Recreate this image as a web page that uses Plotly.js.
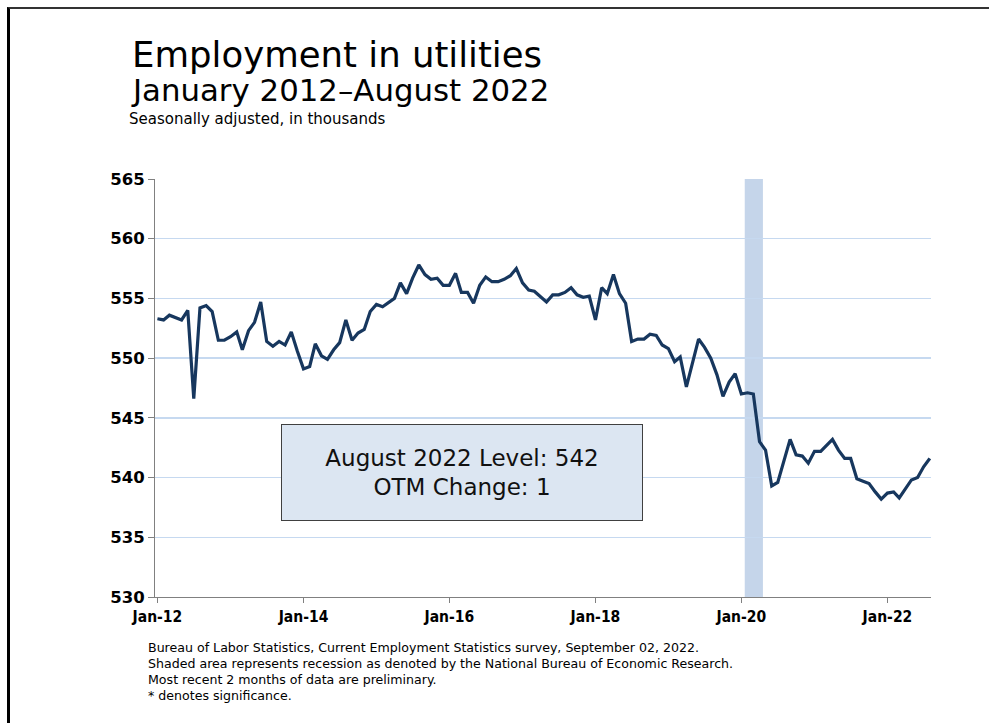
<!DOCTYPE html>
<html>
<head>
<meta charset="utf-8">
<script src="https://cdn.plot.ly/plotly-3.0.1.min.js"></script>
<style>
  html, body { margin: 0; padding: 0; background: #fff; }
  #wrap { position: relative; width: 989px; height: 723px; overflow: hidden; }
  #frame { position: absolute; left: 7px; top: 7px; width: 990px; height: 730px;
           border-top: 2px solid #333; border-left: 3px solid #000; pointer-events: none; }
  #chart { position: absolute; left: 0; top: 0; width: 989px; height: 723px; }
</style>
</head>
<body>
<div id="wrap">
  <div id="chart"></div>
  <div id="frame"></div>
</div>
<script>
// Monthly employment in utilities, thousands, Jan 2012 – Aug 2022
const startYear = 2012;
const values2012 = [553.3, 553.2, 553.6, 553.4, 553.2, 554.0, 546.6, 554.2, 554.4, 553.9, 551.5, 551.5];
const values2013 = [551.8, 552.2, 550.7, 552.3, 553.0, 554.7, 551.4, 551.0, 551.4, 551.1, 552.2, 550.6];
const values2014 = [549.1, 549.3, 551.2, 550.2, 549.9, 550.7, 551.3, 553.2, 551.5, 552.1, 552.4, 553.9];
const values2015 = [554.5, 554.3, 554.6, 555.0, 556.3, 555.4, 556.7, 557.8, 557.0, 556.6, 556.7, 556.1];
const values2016 = [556.1, 557.1, 555.5, 555.5, 554.6, 556.1, 556.8, 556.4, 556.4, 556.6, 556.9, 557.5];
const values2017 = [556.3, 555.7, 555.6, 555.1, 554.7, 555.3, 555.3, 555.5, 555.9, 555.3, 555.1, 555.2];
const values2018 = [553.2, 555.9, 555.4, 557.0, 555.4, 554.6, 551.4, 551.6, 551.6, 552.0, 551.9, 551.1];
const values2019 = [550.8, 549.7, 550.1, 547.6, 549.6, 551.6, 550.9, 550.0, 548.6, 546.8, 548.0, 548.7];
const values2020 = [547.0, 547.1, 547.0, 543.0, 542.3, 539.3, 539.6, 541.4, 543.2, 541.9, 541.8, 541.2];
const values2021 = [542.2, 542.2, 542.7, 543.2, 542.3, 541.6, 541.6, 539.9, 539.7, 539.5, 538.8, 538.2];
const values2022 = [538.7, 538.8, 538.3, 539.1, 539.8, 540.0, 540.9, 541.6];

const yearly = [values2012, values2013, values2014, values2015, values2016, values2017,
                values2018, values2019, values2020, values2021, values2022];

const tickDates = ['2012-01-01', '2014-01-01', '2016-01-01', '2018-01-01', '2020-01-01', '2022-01-01'];
const tickLabels = ['Jan-12', 'Jan-14', 'Jan-16', 'Jan-18', 'Jan-20', 'Jan-22'];
const recessionStart = '2020-01-18';
const recessionEnd = '2020-04-18';

const titleText = 'Employment in utilities';
const subtitleText = 'January 2012–August 2022';
const unitText = 'Seasonally adjusted, in thousands';
const boxText = 'August 2022 Level: 542<br>OTM Change: 1';
const notes = [
  'Bureau of Labor Statistics, Current Employment Statistics survey, September 02, 2022.',
  'Shaded area represents recession as denoted by the National Bureau of Economic Research.',
  'Most recent 2 months of data are preliminary.',
  '* denotes significance.'
];

const x = [], y = [];
yearly.forEach((arr, yi) => {
  arr.forEach((v, m) => {
    const mm = String(m + 1).padStart(2, '0');
    x.push((startYear + yi) + '-' + mm + '-01');
    y.push(v);
  });
});

const FONT = "Tahoma, 'DejaVu Sans', 'Liberation Sans', sans-serif";
const FONTC = "Tahoma, 'DejaVu Sans Condensed', 'Liberation Sans', sans-serif";

const W = 989, H = 723, ML = 155, MR = 58, MT = 179, MB = 126;
const PW = W - ML - MR, PH = H - MT - MB;
const px = v => (v - ML) / PW;           // pixel x -> paper x
const py = v => (H - MB - v) / PH;       // pixel y -> paper y

const annotations = [
  { text: subtitleText, xref: 'paper', yref: 'paper', x: px(129), y: py(90), xanchor: 'left', yanchor: 'middle',
    showarrow: false, font: { family: FONT, size: 30.8, color: '#000' } },
  { text: unitText, xref: 'paper', yref: 'paper', x: px(127), y: py(119), xanchor: 'left', yanchor: 'middle',
    showarrow: false, font: { family: FONT, size: 15, color: '#000' } },
  { text: boxText, xref: 'paper', yref: 'paper', x: px(462), y: py(472.5), xanchor: 'center', yanchor: 'middle',
    showarrow: false, align: 'center', width: 356, height: 91, bgcolor: '#dce6f2', bordercolor: '#404040',
    borderwidth: 1, borderpad: 2, font: { family: FONT, size: 23, color: '#111' } }
];
notes.forEach((t, i) => {
  annotations.push({ text: t, xref: 'paper', yref: 'paper', x: px(146), y: py(647 + 16 * i),
    xanchor: 'left', yanchor: 'middle', showarrow: false, font: { family: FONT, size: 12.6, color: '#000' } });
});

const data = [{
  type: 'scatter', mode: 'lines', x: x, y: y,
  line: { color: '#17375e', width: 3.2 }, hoverinfo: 'x+y'
}];

const layout = {
  width: W, height: H,
  margin: { l: ML, r: MR, t: MT, b: MB },
  paper_bgcolor: '#fff', plot_bgcolor: '#fff',
  showlegend: false,
  title: { text: titleText, xref: 'container', yref: 'container', x: 132 / W, xanchor: 'left',
           y: 1 - 55 / H, yanchor: 'middle', font: { family: FONT, size: 35.5, color: '#000' } },
  xaxis: {
    type: 'date', range: ['2011-12-20', '2022-08-07'],
    tickvals: tickDates, ticktext: tickLabels, tickmode: 'array',
    showgrid: false, zeroline: false,
    showline: true, linecolor: '#808080', linewidth: 1,
    ticks: 'outside', ticklen: 5, tickcolor: '#808080',
    tickfont: { family: FONTC, size: 15.5, color: '#000', weight: 'bold' }
  },
  yaxis: {
    range: [530, 565], dtick: 5, tick0: 530,
    showgrid: true, gridcolor: '#c6d9f0', gridwidth: 1.3, zeroline: false,
    showline: true, linecolor: '#808080', linewidth: 1,
    ticks: 'outside', ticklen: 6, tickcolor: '#808080',
    tickfont: { family: FONT, size: 16.5, color: '#000', weight: 'bold' }
  },
  shapes: [{
    type: 'rect', xref: 'x', yref: 'paper', x0: recessionStart, x1: recessionEnd, y0: 0, y1: 1,
    fillcolor: '#c5d5ea', line: { width: 0 }, layer: 'below'
  }],
  annotations: annotations
};

Plotly.newPlot('chart', data, layout, { displayModeBar: false, staticPlot: true });
</script>
</body>
</html>
